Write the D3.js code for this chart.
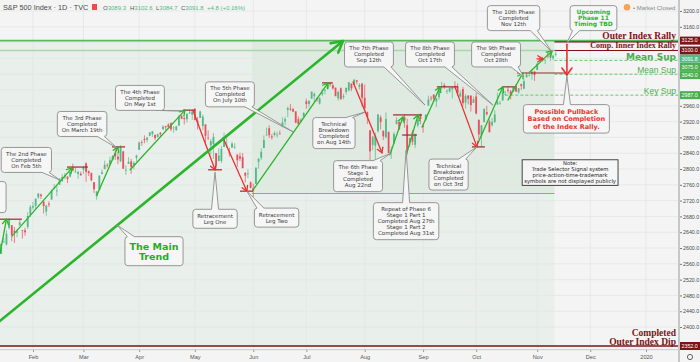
<!DOCTYPE html>
<html>
<head>
<meta charset="utf-8">
<script src="https://cdn.jsdelivr.net/npm/d3@7"></script>
<style>
  body { margin: 0; background: #f4f4f4; }
  svg { display: block; }
</style>
</head>
<body>
<div id="chart"></div>
<script>
// S&P 500 daily candles, 14 Jan 2019 (index 0) to 12 Nov 2019 (index 210)
const opens = [2580.3,2585.1,2614.8,2609.3,2651.3,2657.9,2643.5,2638.8,2657.4,2644.9,
  2644.9,2653.6,2685.5,2702.3,2706.5,2728.3,2735.1,2717.5,2692.4,2712.4,
  2722.6,2750.3,2743.5,2760.2,2769.3,2779.1,2780.7,2780.7,2804.4,2792.4,
  2787.5,2788.1,2798.2,2814.4,2794.4,2790.3,2766.5,2730.8,2747.6,2787.3,
  2799.8,2810.4,2810.8,2822.6,2840.8,2831.3,2819.7,2844.5,2796.0,2812.7,
  2819.7,2809.4,2828.3,2848.6,2868.2,2876.1,2874.0,2884.2,2888.5,2886.6,
  2881.4,2891.9,2900.9,2908.3,2912.3,2916.0,2904.8,2898.8,2910.0,2934.0,
  2929.0,2925.8,2940.6,2937.1,2952.3,2922.2,2929.2,2908.9,2913.0,2879.6,
  2859.8,2863.1,2840.2,2820.1,2820.4,2855.8,2858.6,2841.9,2854.0,2856.1,
  2836.7,2832.4,2830.0,2790.3,2786.9,2766.2,2751.5,2762.6,2818.1,2828.5,
  2852.9,2885.8,2903.3,2882.7,2886.2,2886.8,2889.8,2906.7,2920.6,2949.6,
  2952.7,2951.4,2945.8,2926.1,2919.7,2932.9,2971.4,2964.7,2978.1,2984.3,
  2979.8,2965.5,2989.3,2999.6,3003.4,3017.8,3012.1,3006.0,2978.9,3004.3,
  2981.9,2994.7,2998.8,3016.3,3013.3,3024.5,3007.7,3016.2,2980.3,2943.9,
  2898.1,2861.2,2858.7,2896.2,2930.5,2896.2,2880.7,2894.2,2846.2,2864.7,
  2913.5,2919.0,2922.0,2930.9,2911.1,2866.7,2893.1,2861.3,2910.4,2937.1,
  2909.0,2924.7,2960.6,2980.3,2988.4,2971.0,2981.4,3009.1,3012.2,2996.4,
  2995.7,3001.5,3010.4,3008.4,2983.5,3002.4,2968.4,2985.7,2985.5,2967.1,
  2983.7,2924.8,2885.4,2918.6,2944.2,2920.4,2911.1,2918.6,2963.1,2965.8,
  2973.6,2989.7,3000.8,2996.8,2996.5,3010.7,2994.0,3014.8,3003.3,3032.1,
  3035.4,3039.7,3046.9,3050.7,3079.0,3080.8,3075.1,3087.0,3081.3,3080.3,
  3089.3];
const highs = [2589.3,2613.1,2625.8,2645.1,2675.5,2657.9,2653.2,2647.2,2672.4,2644.9,
  2650.9,2690.4,2708.9,2716.7,2725.0,2739.0,2738.1,2719.3,2708.1,2718.1,
  2748.2,2761.9,2757.9,2775.7,2787.3,2789.9,2781.4,2794.2,2813.5,2803.1,
  2795.8,2793.7,2808.0,2816.9,2796.4,2790.3,2767.0,2744.1,2784.0,2798.3,
  2821.2,2815.0,2830.7,2835.4,2852.4,2843.5,2860.3,2846.2,2809.8,2829.9,
  2825.6,2819.7,2836.0,2869.4,2872.9,2885.3,2881.3,2893.2,2895.9,2886.9,
  2889.7,2893.4,2910.5,2909.6,2916.1,2918.0,2908.5,2909.5,2936.3,2936.8,
  2933.1,2939.9,2950.0,2948.2,2954.1,2931.7,2947.8,2937.3,2913.0,2898.0,
  2876.0,2891.3,2840.2,2852.5,2858.7,2892.2,2885.5,2853.9,2868.9,2865.5,
  2836.7,2841.4,2840.5,2792.0,2799.0,2769.0,2763.1,2804.5,2827.3,2852.1,
  2885.0,2904.8,2910.6,2888.6,2895.2,2894.5,2897.3,2930.8,2931.7,2958.1,
  2964.2,2954.9,2946.5,2932.6,2929.3,2944.0,2977.9,2973.2,2995.8,2994.0,
  2980.8,2981.9,3003.0,3002.3,3013.9,3017.8,3015.0,3006.0,2998.3,3006.5,
  2990.7,3005.9,3019.6,3016.3,3028.0,3025.6,3017.2,3017.4,3013.6,2945.5,
  2898.1,2884.4,2892.2,2938.7,2935.8,2898.5,2943.3,2894.2,2856.7,2893.6,
  2931.0,2923.6,2928.7,2939.1,2927.0,2879.3,2898.8,2890.0,2930.5,2940.4,
  2914.4,2938.8,2985.9,2985.0,2989.4,2979.4,3000.9,3020.7,3017.3,3002.2,
  3006.2,3007.8,3022.0,3016.4,2999.2,3008.0,2989.8,2987.3,2987.3,2983.8,
  2992.5,2924.8,2911.1,2953.7,2959.8,2925.5,2929.3,2948.5,2993.3,2972.8,
  3003.3,2997.5,3008.3,3000.0,3007.3,3014.6,3004.8,3016.1,3027.4,3044.1,
  3047.9,3050.1,3046.9,3067.0,3085.2,3084.0,3078.3,3097.8,3093.1,3088.3,
  3102.6];
const lows = [2570.4,2585.1,2612.7,2606.4,2647.6,2617.3,2612.9,2627.0,2657.3,2624.1,
  2631.1,2648.3,2678.7,2696.9,2698.8,2724.0,2724.2,2687.3,2681.8,2703.8,
  2722.6,2748.6,2731.2,2760.2,2767.3,2774.1,2764.6,2779.1,2794.0,2789.5,
  2775.1,2782.5,2787.4,2767.7,2782.1,2768.7,2739.1,2722.3,2747.6,2786.7,
  2799.8,2803.5,2810.8,2822.0,2823.3,2812.4,2817.4,2800.5,2785.0,2812.7,
  2787.7,2798.8,2819.2,2848.6,2858.8,2865.2,2867.1,2883.0,2880.8,2873.3,
  2879.1,2882.0,2898.4,2896.5,2900.7,2895.5,2891.9,2896.4,2908.5,2926.1,
  2912.8,2917.6,2939.4,2924.1,2923.4,2900.5,2929.2,2898.2,2862.6,2873.3,
  2836.4,2825.4,2801.4,2820.1,2815.1,2855.8,2854.2,2831.3,2854.0,2851.1,
  2805.5,2820.2,2801.6,2766.1,2776.7,2750.5,2728.8,2762.6,2800.9,2822.5,
  2852.9,2885.5,2878.5,2874.7,2882.0,2879.6,2887.3,2905.4,2911.4,2931.5,
  2946.9,2944.1,2916.0,2913.0,2918.6,2929.1,2952.2,2955.9,2978.0,2968.0,
  2970.1,2963.4,2984.6,2988.8,3001.9,3008.8,3001.2,2984.2,2973.1,2975.9,
  2976.7,2988.6,2996.8,2997.2,3012.6,3014.5,3000.9,2958.1,2945.2,2914.1,
  2822.1,2847.4,2825.7,2891.9,2900.2,2873.2,2877.1,2839.6,2825.5,2864.7,
  2913.5,2899.6,2917.9,2904.5,2835.0,2856.0,2860.6,2853.1,2905.7,2913.3,
  2891.9,2921.9,2960.6,2972.5,2969.4,2957.0,2975.3,3000.9,3002.9,2990.1,
  2993.7,2978.6,3003.2,2984.7,2982.2,2957.7,2952.9,2963.7,2945.5,2967.1,
  2938.7,2874.9,2855.9,2918.6,2935.7,2892.7,2907.4,2917.1,2963.1,2962.9,
  2973.6,2985.2,2991.8,2976.3,2995.4,2995.0,2991.2,3000.4,3001.9,3032.1,
  3034.8,3026.0,3023.2,3050.7,3074.9,3072.2,3065.9,3080.3,3073.6,3075.8,
  3084.7];
const closes = [2582.6,2610.3,2616.1,2636.0,2670.7,2632.9,2638.7,2642.3,2664.8,2643.9,
  2640.0,2681.1,2704.1,2706.5,2724.9,2737.7,2731.6,2706.1,2707.9,2709.8,
  2744.7,2753.0,2745.7,2775.6,2779.8,2784.7,2774.9,2792.7,2796.1,2793.9,
  2792.4,2784.5,2803.7,2792.8,2789.7,2771.5,2748.9,2743.1,2783.3,2791.5,
  2810.9,2808.5,2822.5,2832.9,2832.6,2824.2,2854.9,2800.7,2798.4,2818.5,
  2805.4,2815.4,2834.4,2867.2,2867.2,2873.4,2879.4,2892.7,2895.8,2878.2,
  2888.2,2888.3,2907.4,2905.6,2907.1,2900.5,2905.0,2908.0,2933.7,2927.3,
  2926.2,2939.9,2943.0,2945.8,2923.7,2917.5,2945.6,2932.5,2884.1,2879.4,
  2870.7,2881.4,2811.9,2834.4,2851.0,2876.3,2859.5,2840.2,2864.4,2856.3,
  2822.2,2826.1,2802.4,2783.0,2788.9,2752.1,2744.5,2803.3,2826.2,2843.5,
  2873.3,2886.7,2885.7,2879.8,2891.6,2887.0,2889.7,2917.8,2926.5,2954.2,
  2950.5,2945.4,2917.4,2913.8,2924.9,2941.8,2964.3,2973.0,2995.8,2990.4,
  2976.0,2979.6,2993.1,2999.9,3013.8,3014.3,3004.0,2984.4,2995.1,2976.6,
  2985.0,3005.5,3019.6,3003.7,3025.9,3021.0,3013.2,2980.4,2953.6,2932.1,
  2844.7,2881.8,2884.0,2938.1,2918.7,2882.7,2926.3,2840.6,2847.6,2888.7,
  2923.7,2900.5,2924.4,2923.0,2847.1,2878.4,2869.2,2887.9,2924.6,2926.5,
  2906.3,2937.8,2976.0,2978.7,2978.4,2979.4,3000.9,3009.6,3007.4,2998.0,
  3005.7,3006.7,3006.8,2992.1,2991.8,2966.6,2984.9,2977.6,2961.8,2976.7,
  2940.3,2887.6,2910.6,2952.0,2938.8,2893.1,2919.4,2938.1,2970.3,2966.2,
  2995.7,2989.7,2998.0,2986.2,3006.7,2996.0,3004.5,3010.3,3022.6,3039.4,
  3036.9,3046.8,3037.6,3066.9,3078.3,3074.6,3076.8,3085.2,3093.1,3087.0,
  3091.8];

// time axis: trading-day index of each month's first session
const monthLabels = ["Feb","Mar","Apr","May","Jun","Jul","Aug","Sep","Oct","Nov","Dec","2020"];
const monthFirstDay = [13,32,53,74,96,116,138,160,180,203,223,244];
const priceTicks = d3.range(2400, 3201, 40);

// horizontal levels drawn on the chart
const levelPrices = [3125, 3100, 3075, 3040, 2987, 2352];
const levelNames = [["Outer Index Rally"], ["Comp. Inner Index Rally"], ["Mean Sup"], ["Mean Sup"], ["Key Sup"], ["Completed", "Outer Index Dip"]];

// drawings, anchored at [day index, price]
const mainTrend = [[0.5, 2415], [129.8, 3124]];
const greenArrows = [
  [[0.6, 2587], [3, 2673]], [[5.1, 2630], [27.7, 2803]], [[37.1, 2734], [45, 2856]],
  [[49.6, 2798], [70.3, 2949]], [[95.9, 2747], [124.2, 3018]], [[147.5, 2836], [152.4, 2932]],
  [[153.9, 2841], [158.1, 2937]], [[159.6, 2906], [166.4, 3008]], [[180.7, 2866], [190.1, 3008]],
  [[192, 2975], [197.6, 3043]], [[200.3, 3046], [208.6, 3099]]
];
const redArrows = [
  [[73.3, 2949], [81.6, 2798]], [[84.6, 2879], [93.6, 2744]], [[133.6, 3020], [144.5, 2841]],
  [[172, 3008], [180.3, 2856]], [[202.9, 3079], [205.1, 3079]]
];
const pullbackArrow = [[214.2, 3116], [214.2, 3038]];
const pivotMarks = [
  [0, 8.8, 2673], [25.8, 33.7, 2805], [42.8, 47.7, 2856], [69.5, 74, 2949], [79, 84.2, 2798],
  [91, 95.9, 2744], [121.9, 126, 3018], [148.7, 159.6, 2937], [152.1, 157.7, 2886],
  [165.2, 173.2, 3008], [178.4, 183.3, 2856], [189.7, 194.6, 3008], [195.4, 214.2, 3043]
];
// the first callout lies off the left edge; only its border shows
const callouts = [
  { kind: "phase", at: [-7.7, 2729], to: null, lines: ["", "", "", ""] },
  { kind: "phase", at: [10.5, 2823], to: [23.2, 2772], lines: ["The 2nd Phase", "Completed", "On Feb 5th"] },
  { kind: "phase", at: [31.5, 2914], to: [44.7, 2853], lines: ["The 3rd Phase", "Completed", "On March 19th"] },
  { kind: "phase", at: [53.3, 2980], to: [69.5, 2947], lines: ["The 4th Phase", "Completed", "On May 1st"] },
  { kind: "phase", at: [87.2, 2989], to: [111, 2894], lines: ["The 5th Phase", "Completed", "On July 10th"] },
  { kind: "phase", at: [126.4, 2891], to: [138.1, 2944], lines: ["Technical", "Breakdown", "Completed", "on Aug 14th"] },
  { kind: "phase", at: [135.5, 2782], to: [147.9, 2840], lines: ["The 6th Phase", "Stage 1", "Completed", "Aug 22nd"] },
  { kind: "phase", at: [153.6, 2668], to: [153.6, 2848], lines: ["Repeat of Phase 6", "Stage 1 Part 1", "Completed Aug 27th", "Stage 1 Part 2", "Completed Aug 31st"] },
  { kind: "phase", at: [169.6, 2786], to: [180.3, 2856], lines: ["Technical", "Breakdown", "Completed", "on Oct 3rd"] },
  { kind: "phase", at: [139.6, 3090], to: [160.7, 2962], lines: ["The 7th Phase", "Completed", "Sep 12th"] },
  { kind: "phase", at: [162.6, 3090], to: [186.3, 2962], lines: ["The 8th Phase", "Completed", "Oct 17th"] },
  { kind: "phase", at: [187.5, 3090], to: [198, 3033], lines: ["The 9th Phase", "Completed", "Oct 28th"] },
  { kind: "phase", at: [194.1, 3182], to: [208.6, 3096], lines: ["The 10th Phase", "Completed", "Nov 12th"] },
  { kind: "next", at: [224.2, 3182], to: [214.2, 3119], lines: ["Upcoming", "Phase 11", "Timing TBD"] },
  { kind: "warn", at: [214, 2927], to: [214.2, 3035], lines: ["Possible Pullback", "Based on Completion", "of the Index Rally."] },
  { kind: "note", at: [215.4, 2791], to: null, lines: ["Note:", "Trade Selector Signal system", "price-action-time-trademark", "symbols are not displayed publicly"] },
  { kind: "phase", at: [81.6, 2674], to: [81.6, 2792], lines: ["Retracement", "Leg One"] },
  { kind: "phase", at: [104.8, 2677], to: [93.6, 2744], lines: ["Retracement", "Leg Two"] },
  { kind: "trend", at: [58.6, 2592], to: [44.7, 2658], lines: ["The Main", "Trend"] }
];

const width = 700, height = 362;
const plotRight = 678, plotBottom = 349;
const up = "#53b987", down = "#eb4d5c", arrowGreen = "#2ab52a", arrowRed = "#ee2f2f";
const maroon = "#7a1416", levelGreen = "#4caf50";

const x = d3.scaleLinear().domain([13, 244]).range([33, 646]);
const y = d3.scaleLinear().domain([2352, 3200]).range([346, 11]);

const svg = d3.select("#chart").append("svg")
  .attr("width", width).attr("height", height);

svg.append("rect").attr("width", width).attr("height", height).attr("fill", "#f4f4f4");

const defs = svg.append("defs");
defs.append("clipPath").attr("id", "plot")
  .append("rect").attr("width", plotRight).attr("height", plotBottom);

function arrowHead(id, color, len, half, sw) {
  defs.append("marker").attr("id", id)
    .attr("viewBox", `${-len - 3} ${-half - 3} ${len + 6} ${2 * half + 6}`)
    .attr("refX", 0).attr("refY", 0)
    .attr("markerWidth", len + 6).attr("markerHeight", 2 * half + 6)
    .attr("markerUnits", "userSpaceOnUse").attr("orient", "auto")
    .append("path")
    .attr("d", `M${-len},${-half}L0,0L${-len},${half}`)
    .attr("fill", "none").attr("stroke", color).attr("stroke-width", sw)
    .attr("stroke-linecap", "round").attr("stroke-linejoin", "round");
}
arrowHead("ag", arrowGreen, 5, 3, 1.3);
arrowHead("ar", arrowRed, 5, 3, 1.3);
arrowHead("arBig", arrowRed, 7, 5, 1.6);
arrowHead("agBig", arrowGreen, 11, 6, 2.6);

const plot = svg.append("g").attr("clip-path", "url(#plot)");

// shaded boxes
plot.append("rect")
  .attr("x", x(-2)).attr("y", y(3125))
  .attr("width", x(209.5) - x(-2)).attr("height", y(2352) - y(3125))
  .attr("fill", levelGreen).attr("fill-opacity", 0.06);
plot.append("rect")
  .attr("x", x(95.5)).attr("y", y(3125))
  .attr("width", x(209.5) - x(95.5)).attr("height", y(2738) - y(3125))
  .attr("fill", levelGreen).attr("fill-opacity", 0.06);

// grid
plot.append("g").selectAll("line").data(monthFirstDay).join("line")
  .attr("x1", d => x(d)).attr("x2", d => x(d))
  .attr("y1", 0).attr("y2", plotBottom)
  .attr("stroke", "#e3e6e6").attr("stroke-width", 0.8);
plot.append("g").selectAll("line").data(priceTicks).join("line")
  .attr("x1", 0).attr("x2", plotRight)
  .attr("y1", d => y(d)).attr("y2", d => y(d))
  .attr("stroke", "#e3e6e6").attr("stroke-width", 0.8);

// level lines
plot.append("line").attr("x1", x(95.5)).attr("x2", x(209.5))
  .attr("y1", y(2738)).attr("y2", y(2738))
  .attr("stroke", "#6cbf6c").attr("stroke-width", 1);
plot.append("line").attr("x1", 0).attr("x2", plotRight)
  .attr("y1", y(3125)).attr("y2", y(3125))
  .attr("stroke", "#5cb85c").attr("stroke-width", 1.6);
plot.append("line").attr("x1", 0).attr("x2", x(209.5))
  .attr("y1", y(3100)).attr("y2", y(3100))
  .attr("stroke", "#a9d8a9").attr("stroke-width", 1.4);
[3125, 3100].forEach(p => {
  plot.append("line").attr("x1", x(209.5)).attr("x2", plotRight)
    .attr("y1", y(p) + (p === 3125 ? 1.2 : 0)).attr("y2", y(p) + (p === 3125 ? 1.2 : 0))
    .attr("stroke", maroon).attr("stroke-width", 1.2);
});
[[3075, 209.5], [3040, 209.5], [2987, 191]].forEach(([p, from]) => {
  plot.append("line").attr("x1", x(from)).attr("x2", plotRight)
    .attr("y1", y(p)).attr("y2", y(p))
    .attr("stroke", "#6cc46c").attr("stroke-width", 1).attr("stroke-dasharray", "3,2");
});
plot.append("line").attr("x1", 0).attr("x2", plotRight)
  .attr("y1", y(2352)).attr("y2", y(2352))
  .attr("stroke", maroon).attr("stroke-width", 1.6);

// candles
const days = d3.range(closes.length);
const bw = 1.8;
const candles = plot.append("g").selectAll("g").data(days).join("g");
candles.append("line")
  .attr("x1", i => x(i)).attr("x2", i => x(i))
  .attr("y1", i => y(highs[i])).attr("y2", i => y(lows[i]))
  .attr("stroke", i => closes[i] >= opens[i] ? up : down).attr("stroke-width", 0.7);
candles.append("rect")
  .attr("x", i => x(i) - bw / 2).attr("width", bw)
  .attr("y", i => y(Math.max(opens[i], closes[i])))
  .attr("height", i => Math.max(0.7, Math.abs(y(opens[i]) - y(closes[i]))))
  .attr("fill", i => closes[i] >= opens[i] ? up : down);

// drawings
const seg = (g, p, color, sw, marker) => g.append("line")
  .attr("x1", x(p[0][0])).attr("y1", y(p[0][1]))
  .attr("x2", x(p[1][0])).attr("y2", y(p[1][1]))
  .attr("stroke", color).attr("stroke-width", sw).attr("stroke-linecap", "round")
  .attr("marker-end", marker);

const draw = plot.append("g");
pivotMarks.forEach(([a, b, p]) => draw.append("line")
  .attr("x1", x(a)).attr("x2", x(b)).attr("y1", y(p)).attr("y2", y(p))
  .attr("stroke", "#9b2a22").attr("stroke-width", 1.2));
greenArrows.forEach(p => seg(draw, p, arrowGreen, 1.3, "url(#ag)"));
redArrows.forEach(p => seg(draw, p, arrowRed, 1.3, "url(#ar)"));
seg(draw, pullbackArrow, arrowRed, 1.6, "url(#arBig)");
seg(draw, mainTrend, arrowGreen, 2.6, "url(#agBig)");

// callouts
const calloutStyle = {
  phase: { font: "DejaVu Sans", size: 5.5, weight: "normal", color: "#3a3a3a", lh: 6, padX: 4, padY: 3.5, r: 3 },
  trend: { font: "DejaVu Sans", size: 9.5, weight: "bold", color: "#1fae1f", lh: 10, padX: 4.5, padY: 4.5, r: 3 },
  next: { font: "DejaVu Sans", size: 6, weight: "bold", color: "#2ab52a", lh: 6, padX: 4, padY: 3.5, r: 3 },
  warn: { font: "DejaVu Sans", size: 6.5, weight: "bold", color: "#e8352f", lh: 7.5, padX: 4, padY: 3, r: 3 },
  note: { font: "DejaVu Sans", size: 5.3, weight: "normal", color: "#222", lh: 6, padX: 2, padY: 0.8, r: 0 }
};
const ann = plot.append("g");
callouts.forEach(c => {
  const st = calloutStyle[c.kind];
  const g = ann.append("g");
  const cx = x(c.at[0]), cy = y(c.at[1]);
  const n = c.lines.length;
  const t = g.append("text")
    .attr("font-family", st.font).attr("font-size", st.size)
    .attr("font-weight", st.weight).attr("fill", st.color)
    .attr("text-anchor", "middle");
  c.lines.filter(l => l).forEach((l, i) => t.append("tspan")
    .attr("x", cx).attr("y", cy + (i - (n - 1) / 2) * st.lh)
    .attr("dy", "0.36em").text(l));
  const tw = c.lines.some(l => l) ? t.node().getBBox().width : 48;
  const w = tw + 2 * st.padX, h = n * st.lh + 2 * st.padY;
  const x0 = cx - w / 2, y0 = cy - h / 2;
  const box = g.insert("g", "text");
  box.append("rect").attr("x", x0).attr("y", y0).attr("width", w).attr("height", h)
    .attr("rx", st.r).attr("fill", "#f6f6f6").attr("fill-opacity", 0.95)
    .attr("stroke", c.kind === "note" ? "#333" : "#8c8c8c").attr("stroke-width", 0.9);
  if (c.to) {
    const tx = x(c.to[0]), ty = y(c.to[1]);
    let a, b, ia, ib;
    const hb = 3.5;
    if (ty > y0 + h || ty < y0) {
      const ey = ty > y0 + h ? y0 + h : y0, inn = ty > y0 + h ? -1.2 : 1.2;
      const bx = Math.max(x0 + 6, Math.min(x0 + w - 6, tx));
      a = [bx - hb, ey]; b = [bx + hb, ey]; ia = [bx - hb, ey + inn]; ib = [bx + hb, ey + inn];
    } else {
      const ex = tx > x0 + w ? x0 + w : x0, inn = tx > x0 + w ? -1.2 : 1.2;
      const by = Math.max(y0 + 5, Math.min(y0 + h - 5, ty));
      a = [ex, by - hb]; b = [ex, by + hb]; ia = [ex + inn, by - hb]; ib = [ex + inn, by + hb];
    }
    box.append("path").attr("d", `M${ia}L${a}L${tx},${ty}L${b}L${ib}Z`).attr("fill", "#f6f6f6");
    box.append("path").attr("d", `M${a}L${tx},${ty}L${b}`)
      .attr("fill", "none").attr("stroke", "#8c8c8c").attr("stroke-width", 0.9);
  }
});

// level captions, sitting just above their lines
const levelStyle = [
  { font: "Liberation Serif", size: 9.5, weight: "bold", color: maroon, dy: -1.6 },
  { font: "Liberation Serif", size: 8, weight: "bold", color: maroon, dy: -2.2 },
  { font: "DejaVu Sans", size: 9, weight: "bold", color: "#4cae4c", dy: -0.8 },
  { font: "Liberation Sans", size: 8.5, weight: "normal", color: "#4cae4c", dy: -1.6 },
  { font: "Liberation Sans", size: 8.5, weight: "normal", color: "#4cae4c", dy: -1.4 },
  { font: "Liberation Serif", size: 9.5, weight: "bold", color: maroon, dy: -1.2 }
];
levelPrices.forEach((p, k) => {
  const st = levelStyle[k];
  const names = levelNames[k];
  const t = svg.append("text").attr("text-anchor", "end")
    .attr("font-family", st.font).attr("font-size", st.size)
    .attr("font-weight", st.weight).attr("fill", st.color);
  names.forEach((nm, i) => t.append("tspan").attr("x", 676)
    .attr("y", y(p) + st.dy - (names.length - 1 - i) * 8.5).text(nm));
});

// price tags on the axis, pushed apart like the platform does
const tagColors = [maroon, maroon, "#4caf50", "#4caf50", "#4caf50", maroon];
const tags = levelPrices.map((p, k) => ({ p, c: tagColors[k] }));
tags.push({ p: closes[closes.length - 1], c: up });
tags.sort((a, b) => b.p - a.p);
let last = -100;
tags.forEach(tg => { tg.y = Math.max(y(tg.p), last + 8.2); last = tg.y; });

// price axis; tick labels hidden where a tag sits
svg.append("rect").attr("x", plotRight).attr("y", 0).attr("width", 2).attr("height", height)
  .attr("fill", "#c6c8c8");
svg.append("rect").attr("x", 0).attr("y", plotBottom).attr("width", plotRight).attr("height", 1.2)
  .attr("fill", "#cfd1d1");
const freeTicks = priceTicks.filter(p => tags.every(tg => Math.abs(tg.y - y(p)) > 8));
const yAxis = svg.append("g").attr("transform", `translate(${plotRight + 2},0)`)
  .call(d3.axisRight(y).tickValues(freeTicks).tickFormat(d3.format(".1f")).tickSize(2).tickPadding(1));
yAxis.select(".domain").remove();
yAxis.selectAll("line").attr("stroke", "#777");
yAxis.selectAll("text").attr("font-family", "Liberation Sans").attr("font-size", 5.3).attr("fill", "#4a4a4a");

const xAxis = svg.append("g").attr("transform", `translate(0,${plotBottom + 1})`)
  .call(d3.axisBottom(x).tickValues(monthFirstDay).tickFormat((d, i) => monthLabels[i]).tickSize(2).tickPadding(3));
xAxis.select(".domain").remove();
xAxis.selectAll("line").attr("stroke", "#999");
xAxis.selectAll("text").attr("font-family", "Liberation Sans").attr("font-size", 5.6).attr("fill", "#555");

tags.forEach(tg => {
  svg.append("rect").attr("x", plotRight + 2).attr("y", tg.y - 4).attr("width", 20).attr("height", 8)
    .attr("fill", tg.c);
  svg.append("text").attr("x", plotRight + 3.5).attr("y", tg.y).attr("dy", "0.35em")
    .attr("font-family", "Liberation Sans").attr("font-size", 5.3).attr("fill", "#fff")
    .text(d3.format(".1f")(tg.p));
});
svg.append("circle").attr("cx", 690).attr("cy", 357).attr("r", 2.6)
  .attr("fill", "none").attr("stroke", "#555").attr("stroke-width", 0.9);

// header
const n = closes.length - 1;
const head = svg.append("g").attr("font-family", "Liberation Sans");
head.append("text").attr("x", 3).attr("y", 10).attr("font-size", 7.3).attr("fill", "#4a4a4a")
  .text("S&P 500 Index · 1D · TVC");
head.append("rect").attr("x", 92).attr("y", 4).attr("width", 5).attr("height", 6).attr("fill", "#ef4b4b");
const ohlc = [["O", opens[n], 103], ["H", highs[n], 130], ["L", lows[n], 156], ["C", closes[n], 181]];
ohlc.forEach(([k, v, px]) => {
  const t = head.append("text").attr("x", px).attr("y", 10).attr("font-size", 6);
  t.append("tspan").attr("fill", "#555").text(k);
  t.append("tspan").attr("fill", up).text(v.toFixed(1));
});
const chg = closes[n] - closes[n - 1];
head.append("text").attr("x", 207).attr("y", 10).attr("font-size", 6).attr("fill", up)
  .text(`+${chg.toFixed(1)} (+${(chg / closes[n - 1] * 100).toFixed(2)}%)`);
head.append("circle").attr("cx", 627).attr("cy", 7.3).attr("r", 3.3).attr("fill", "#f7a35c");
head.append("text").attr("x", 633).attr("y", 9.5).attr("font-size", 6).attr("fill", "#888")
  .text("• Market Closed");
</script>
</body>
</html>
